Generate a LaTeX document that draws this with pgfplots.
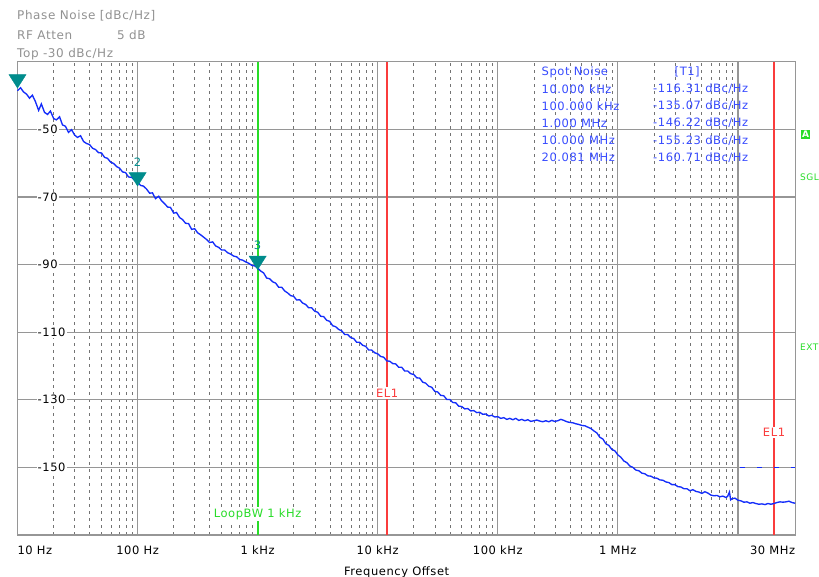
\documentclass[border=0pt]{standalone}
\usepackage{fontspec}
\setmainfont{DejaVu Sans}
\newfontfamily\lcd[LetterSpace=5]{DejaVu Sans}
\usepackage{pgfplots}
\pgfplotsset{compat=1.18}

\definecolor{trace}{RGB}{20,45,250}
\definecolor{gridgray}{RGB}{150,150,150}
\definecolor{mkteal}{RGB}{0,140,140}
\definecolor{lbgreen}{RGB}{40,220,40}
\definecolor{elred}{RGB}{250,60,60}
\definecolor{hdgray}{RGB}{145,145,145}
\definecolor{tblue}{RGB}{55,75,255}

\newcommand{\lbl}{\lcd\fontsize{11.5}{13}\selectfont}

\pgfplotstableread{
f          pn
10         -38.6
10.6       -37.7
11.2       -38.9
11.9       -39.6
12.6       -40.8
13.3       -39.9
14.1       -41.8
15.0       -44.4
15.8       -42.5
16.8       -45.0
17.8       -45.6
18.8       -44.6
20.0       -46.8
21.1       -47.2
22.4       -46.3
23.7       -48.7
25.1       -49.1
26.6       -50.9
28.2       -50.1
29.9       -51.7
31.6       -52.4
33.5       -51.9
35.5       -53.6
37.6       -54.2
39.8       -54.5
42.2       -55.6
44.7       -56.0
47.3       -56.9
50.1       -57.0
53.1       -58.3
56.2       -58.6
59.6       -59.7
63.1       -60.1
66.8       -61.0
70.8       -61.5
75.0       -62.6
79.4       -62.8
84.1       -64.1
89.1       -64.2
94.4       -65.1
100        -65.6
106        -66.6
112        -66.8
119        -67.7
126        -68.9
133        -68.8
141        -70.5
150        -69.8
158        -71.1
168        -72.0
178        -73.0
188        -73.1
200        -74.8
211        -74.6
224        -76.1
237        -76.7
251        -77.8
266        -77.9
282        -79.6
299        -79.4
316        -80.6
335        -81.2
355        -81.9
376        -82.6
398        -83.5
422        -83.3
447        -84.5
473        -84.9
501        -85.7
531        -85.7
562        -86.5
596        -86.9
631        -87.5
668        -87.7
708        -88.5
750        -88.7
794        -89.2
841        -89.6
891        -90.2
944        -90.4
1000       -91.0
1059       -91.9
1122       -92.5
1189       -94.0
1259       -94.2
1334       -95.1
1413       -95.5
1496       -96.7
1585       -96.7
1679       -97.8
1778       -98.4
1884       -99.2
1995       -99.4
2113       -100.5
2239       -100.4
2371       -101.4
2512       -101.8
2661       -102.8
2818       -102.8
2985       -103.8
3162       -104.1
3350       -105.3
3548       -105.4
3758       -106.5
3981       -106.8
4217       -108.1
4467       -108.4
4732       -109.2
5012       -109.6
5309       -110.7
5623       -110.7
5957       -111.6
6310       -111.9
6683       -113.0
7079       -113.0
7499       -113.9
7943       -114.2
8414       -115.3
8913       -115.3
9441       -116.1
10000      -116.4
10590      -117.2
11220      -117.4
11890      -118.5
12590      -118.6
13340      -119.3
14130      -119.4
14960      -120.4
15850      -120.4
16790      -121.5
17780      -121.5
18840      -122.3
19950      -122.5
21130      -123.5
22390      -123.6
23710      -124.8
25120      -125.1
26610      -126.0
28180      -126.3
29850      -127.5
31620      -127.7
33500      -128.7
35480      -128.8
37580      -129.9
39810      -129.9
42170      -130.8
44670      -130.9
47320      -131.9
50120      -132.0
53090      -132.7
56230      -132.6
59570      -133.3
63100      -133.2
66830      -133.8
70790      -133.7
74990      -134.3
79430      -134.2
84140      -134.8
89130      -134.6
94410      -135.1
100000     -135.0
106000     -135.5
112200     -135.3
118900     -135.8
125900     -135.5
133400     -135.9
141300     -135.5
149600     -136.1
158500     -135.8
168000     -136.2
177800     -135.9
188400     -136.4
199500     -136.2
211300     -136.0
223900     -136.3
237100     -136.5
251200     -136.2
266100     -136.5
281800     -136.1
298500     -136.4
316200     -136.2
335000     -135.8
354800     -136.1
376000     -136.5
398100     -136.7
422000     -136.8
446700     -137.1
473200     -137.3
501200     -137.6
531000     -137.7
562300     -138.1
596000     -138.5
631000     -139.2
668300     -139.8
707900     -141.1
749900     -141.6
794300     -143.0
841400     -143.5
891300     -144.7
944100     -145.1
1000000    -146.3
1059000    -147.0
1122000    -148.1
1189000    -148.6
1259000    -149.6
1334000    -150.0
1413000    -150.8
1496000    -151.0
1585000    -151.7
1679000    -151.9
1778000    -152.5
1884000    -152.6
1995000    -153.1
2113000    -153.2
2239000    -153.7
2371000    -153.8
2512000    -154.3
2661000    -154.5
2818000    -155.1
2985000    -155.1
3162000    -155.7
3350000    -155.8
3548000    -156.3
3758000    -156.3
3981000    -156.9
4217000    -156.6
4467000    -157.1
4732000    -157.3
5012000    -157.7
5309000    -157.2
5623000    -157.6
5957000    -158.2
6310000    -158.4
6683000    -158.3
7079000    -158.7
7499000    -158.5
7943000    -158.9
8200000    -158.6
8500000    -157.3
8700000    -159.6
8913000    -159.3
9441000    -159.1
10000000   -159.7
10590000   -159.9
11220000   -160.3
11890000   -160.2
12590000   -160.6
13340000   -160.4
14130000   -160.7
14960000   -160.9
15850000   -160.8
16790000   -161.0
17780000   -160.7
18840000   -160.9
19950000   -160.7
21130000   -160.4
22390000   -160.2
23710000   -160.3
25120000   -160.2
26610000   -160.0
28180000   -160.4
30000000   -160.6
}\tracedata

\begin{document}
\begin{tikzpicture}[x=1pt,y=1pt]
\useasboundingbox (-17.5,-42) rectangle (801.5,535);
\begin{axis}[
  at={(0,0)}, anchor=south west,
  scale only axis, width=777.7pt, height=473.3pt,
  xmode=log, xmin=10, xmax=3e7,
  ymin=-170, ymax=-30,
  clip=false,
  xtick={10,100,1000,10000,100000,1000000,10000000,30000000},
  xticklabels={\rlap{10 Hz},100 Hz,1 kHz,10 kHz,100 kHz,1 MHz,,\llap{30 MHz}},
  minor xtick={20,30,40,50,60,70,80,90,
    200,300,400,500,600,700,800,900,
    2000,3000,4000,5000,6000,7000,8000,9000,
    20000,30000,40000,50000,60000,70000,80000,90000,
    200000,300000,400000,500000,600000,700000,800000,900000,
    2000000,3000000,4000000,5000000,6000000,7000000,8000000,9000000,
    20000000},
  ytick={-150,-130,-110,-90,-70,-50},
  yticklabels={-150,-130,-110,-90,-70,-50},
  major tick length=0pt, minor tick length=0pt,
  grid=both,
  major grid style={gridgray, line width=1.2pt},
  minor grid style={black!55, line width=0.8pt, dash pattern=on 3pt off 4pt},
  axis line style={gridgray, line width=1.2pt},
  xticklabel style={font=\lbl, anchor=center, yshift=-15pt},
  yticklabel style={font=\lbl, anchor=west, xshift=19pt, fill=white, inner sep=1pt},
  xlabel={Frequency Offset},
  every axis x label/.style={at={(axis description cs:0.4875,0)}, anchor=center, yshift=-37pt, font=\lbl},
]
% loop bandwidth and edge lines
\addplot[draw=lbgreen, line width=1.9pt] coordinates {(1000,-170) (1000,-30)};
\addplot[draw=elred, line width=1.9pt] coordinates {(12000,-170) (12000,-30)};
\addplot[draw=elred, line width=1.9pt] coordinates {(2e7,-170) (2e7,-30)};

% trace
\addplot[trace, line width=1.35pt] table[x=f, y=pn] {\tracedata};
\addplot[trace, line width=0.8pt, dash pattern=on 5pt off 12pt] coordinates {(1.05e7,-150) (3e7,-150)};

% markers
\addplot[only marks, mark=triangle*, mark size=9pt, color=mkteal,
  mark options={yshift=9pt, rotate=180, xscale=1.1},
  nodes near coords, point meta=explicit symbolic,
  every node near coord/.style={mkteal, font=\lbl, anchor=center, yshift=15pt}]
  coordinates {(10,-37.8)[] (100,-66.8)[2] (1000,-91.5)[3]};

\node[elred, fill=white, font=\lbl, inner sep=1.5pt] at (axis cs:12000,-128) {EL1};
\node[elred, fill=white, font=\lbl, inner sep=1.5pt] at (axis cs:2e7,-139.6) {EL1};
\node[lbgreen, fill=white, font=\lbl, inner sep=1pt] at (axis cs:1000,-163.8) {LoopBW 1 kHz};
\end{axis}

% header
\begin{scope}[every node/.style={anchor=west, inner sep=0pt, text=hdgray, font=\lcd\fontsize{12}{14}\selectfont}]
\node at (-0.5,519) {Phase Noise [dBc/Hz]};
\node at (-0.5,500) {RF Atten};
\node at (99.5,500) {5 dB};
\node at (-0.5,481) {Top -30 dBc/Hz};
\end{scope}

% spot noise table
\begin{scope}[every node/.style={anchor=west, inner sep=0pt, text=tblue, font=\lbl}]
\node at (524,463) {Spot Noise};
\node at (657,463) {[T1]};
\node at (524,446) {10.000 kHz};
\node at (524,429) {100.000 kHz};
\node at (524,412) {1.000 MHz};
\node at (524,394.5) {10.000 MHz};
\node at (524,377.5) {20.081 MHz};
\node at (635.5,446) {-116.31 dBc/Hz};
\node at (635.5,429) {-135.07 dBc/Hz};
\node at (635.5,412) {-146.22 dBc/Hz};
\node at (635.5,394.5) {-155.23 dBc/Hz};
\node at (635.5,377.5) {-160.71 dBc/Hz};
\end{scope}

% right side annotations
\node[fill=lbgreen, text=white, font=\fontsize{9}{10}\selectfont\bfseries, inner sep=1.5pt] at (788,400.5) {A};
\node[anchor=west, inner sep=0pt, text=lbgreen, font=\lcd\fontsize{9}{10}\selectfont] at (782.5,358) {SGL};
\node[anchor=west, inner sep=0pt, text=lbgreen, font=\lcd\fontsize{9}{10}\selectfont] at (782.5,188) {EXT};
\end{tikzpicture}
\end{document}
